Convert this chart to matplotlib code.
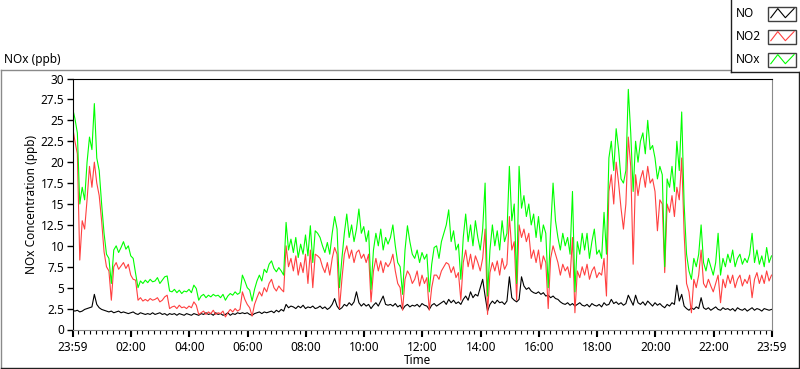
import numpy as np
import matplotlib
matplotlib.use("Agg")
import matplotlib.pyplot as plt
from matplotlib.lines import Line2D
from matplotlib.patches import Rectangle

plt.rcParams['font.family'] = ['Noto Sans', 'DejaVu Sans']

# 5 minute samples, hours since 23:59
no_ppb = [
    2.3, 2.2, 2.3, 2.1, 2.2, 2.4, 2.5, 2.6, 2.7, 4.2, 3.0,
    2.6, 2.4, 2.3, 2.2, 2.1, 2.2, 2.0, 2.1, 2.2, 2.0,
    2.1, 2.0, 1.9, 2.0, 2.1, 1.9, 1.8, 2.0, 1.9, 1.8,
    1.9, 1.8, 2.0, 1.8, 1.9, 2.0, 1.8, 1.9, 1.7, 1.9,
    1.8, 1.9, 1.7, 1.9, 1.8, 1.7, 1.9, 1.8, 1.7, 1.9,
    1.8, 1.7, 1.9, 1.8, 2.0, 1.8, 1.9, 1.7, 2.0, 1.8,
    1.9, 1.7, 1.8, 2.0, 1.7, 1.9, 1.8, 2.0, 1.9, 2.0,
    1.9, 2.0, 1.8, 1.7, 1.9, 2.0, 2.1, 1.9, 2.1, 2.0,
    2.1, 2.2, 2.0, 2.3, 2.1, 2.4, 2.2, 3.0, 2.6, 2.8,
    2.7, 2.5, 2.8, 2.6, 2.9, 2.5, 2.7, 2.6, 2.8, 2.5,
    2.6, 2.8, 2.5, 2.7, 2.4, 2.6, 3.0, 3.7, 2.8, 2.4,
    2.6, 3.0, 2.8, 3.2, 2.9, 3.3, 4.5, 3.2, 2.8, 3.1,
    2.8, 3.0, 2.5, 2.9, 3.2, 2.8, 3.4, 4.0, 3.0, 2.9,
    3.0, 2.8, 3.1, 2.7, 2.9, 2.4, 2.8, 3.0, 2.7, 2.9,
    2.8, 3.0, 2.7, 3.1, 2.9, 2.8, 2.4, 2.9, 3.1, 2.8,
    3.0, 3.2, 3.4, 3.0, 3.6, 3.2, 3.5, 3.1, 3.3, 3.0,
    3.6, 4.0, 3.5, 4.5, 3.8, 4.2, 4.0, 5.0, 6.0, 4.0,
    2.2, 3.0, 3.4, 3.1, 3.5, 3.2, 3.3, 3.0, 3.4, 6.3,
    3.8, 3.5, 3.3, 3.6, 6.3, 5.2, 4.8, 5.0, 4.6, 4.4,
    4.3, 4.5, 4.2, 4.4, 4.0, 4.1, 3.8, 4.0, 3.7, 3.6,
    3.3, 3.1, 3.0, 3.2, 2.9, 3.1, 2.8, 3.0, 3.2, 2.9,
    2.8, 3.0, 2.7, 3.1, 2.9, 2.8, 3.0, 2.7, 3.2, 2.9,
    3.0, 3.6, 3.1, 3.3, 3.0, 3.2, 2.9, 3.1, 4.1, 3.5,
    2.9, 4.1, 3.2, 3.0, 3.3, 2.9, 3.4, 3.1, 2.8, 3.2,
    2.9, 3.1, 2.8, 2.6, 3.0, 2.8, 3.2, 3.0, 5.3, 3.4,
    4.2, 2.8, 2.5, 2.3, 2.6, 2.4, 2.7, 2.5, 3.8, 2.6,
    2.4, 2.6, 2.3, 2.5, 2.7, 2.4, 2.3, 2.6, 2.4, 2.5,
    2.3, 2.5, 2.2, 2.6, 2.4, 2.3, 2.5, 2.2, 2.4, 2.6,
    2.3, 2.5, 2.4, 2.2, 2.5, 2.4, 2.3, 2.4,
]

no2_ppb = [
    24.3, 22.5, 21.0, 8.3, 13.0, 12.0, 15.5, 19.5, 17.0, 20.0, 17.5,
    16.0, 13.0, 9.3, 7.5, 7.0, 3.5, 7.5, 8.0, 7.2, 7.6,
    8.0, 7.3, 7.8, 6.5, 6.0, 5.9, 3.5, 3.8, 3.4, 3.6,
    3.4, 3.7, 3.5, 3.6, 3.8, 3.3, 3.5, 3.9, 4.1, 2.5,
    2.7, 2.8, 2.5, 2.9, 2.6, 2.7, 2.5, 2.8, 2.6, 3.3,
    2.9, 1.8, 2.0, 2.2, 1.8, 2.1, 1.9, 2.3, 1.8, 2.0,
    1.9, 2.2, 1.5, 2.0, 2.4, 2.1, 2.5, 2.2, 2.4, 4.5,
    3.6, 3.0, 2.6, 1.6, 3.0, 3.8, 4.5, 4.0, 5.0, 4.5,
    5.5, 6.0, 5.0, 4.6, 5.2, 4.8, 4.5, 10.0, 7.5, 8.5,
    7.0, 8.8, 6.5, 8.0, 6.8, 9.0, 5.5, 9.5, 5.0, 9.0,
    8.8, 8.5, 7.5, 6.8, 8.0, 6.5, 8.5, 9.8, 9.0, 2.5,
    6.0, 9.0, 10.0, 8.5, 9.5, 8.0, 9.2, 9.5, 8.5, 9.0,
    8.0, 9.0, 3.3, 7.0, 8.5, 7.0, 8.2, 6.8, 8.0, 7.5,
    8.0, 9.0, 7.0, 5.5, 5.0, 2.3, 6.0, 7.0, 6.5, 5.5,
    6.0, 7.0, 5.2, 6.5, 5.5, 6.2, 2.3, 5.0, 6.5, 6.5,
    6.0, 7.0, 7.5, 8.0, 7.8, 6.8, 7.5, 6.2, 6.8, 3.5,
    8.0, 9.5, 7.5, 9.0, 7.2, 8.8, 8.0, 7.0, 8.5, 12.0,
    1.8, 6.8, 8.0, 7.0, 8.2, 6.5, 8.5, 7.2, 7.8, 13.5,
    9.5, 10.5, 3.5, 12.5, 11.0, 12.0, 10.5, 11.5, 8.5, 9.5,
    8.0, 9.5, 7.2, 8.8, 8.0, 2.5, 8.5, 10.0, 9.0, 8.0,
    6.5, 7.8, 7.0, 7.5, 6.2, 11.0, 2.0, 7.0, 6.2, 7.5,
    6.5, 7.8, 6.0, 7.0, 7.5, 6.2, 6.8, 6.5, 8.5, 4.0,
    16.5, 18.5, 15.0, 20.0, 17.5, 14.5, 12.0, 15.0, 23.0, 19.5,
    7.8, 18.5, 16.0, 18.0, 19.0, 17.0, 19.5, 17.5, 18.0, 16.5,
    11.8, 15.5, 15.0, 6.8, 15.0, 14.0, 16.0, 13.5, 17.0, 15.5,
    20.5, 11.5, 5.5, 4.5, 2.0, 6.0, 5.0, 6.5, 9.5, 5.5,
    5.0, 6.0, 5.2, 4.5, 5.5, 6.5, 3.2, 6.0, 5.0, 6.5,
    5.5, 6.5, 5.0, 6.0, 6.5, 5.2, 6.0, 5.5, 6.5, 3.8,
    6.0, 6.8, 5.5, 6.5, 5.5, 7.0, 5.8, 6.5,
]

nox_ppb = [
    26.5, 25.2, 23.5, 15.0, 17.0, 15.5, 20.0, 23.0, 21.5, 27.0, 20.5,
    19.0, 15.0, 11.5, 9.0, 8.5, 5.5, 9.5, 10.0, 9.2, 9.8,
    10.5, 9.6, 10.0, 8.8, 8.5, 6.7, 5.0, 5.8, 5.5, 5.9,
    5.6, 6.0, 5.7, 5.8, 6.2, 5.5, 5.9, 6.3, 6.4, 4.6,
    4.5, 4.8, 4.4, 4.7, 4.3, 4.6, 4.5, 4.8, 4.4, 5.3,
    4.9, 3.5, 4.0, 4.2, 3.8, 4.1, 3.9, 4.2, 4.0, 4.1,
    3.8, 4.2, 3.5, 4.0, 4.3, 4.1, 4.5, 4.2, 4.4, 6.5,
    5.8, 5.0, 4.7, 3.4, 4.8, 5.8, 6.5, 5.8, 7.2, 6.8,
    7.8, 8.2, 7.3, 6.9, 7.4, 7.0, 6.5, 12.8, 9.5, 10.8,
    9.2, 11.0, 8.6, 10.2, 9.0, 11.3, 8.8, 12.4, 8.0, 11.8,
    11.5, 11.0, 10.0, 9.2, 10.4, 9.0, 11.5, 13.5, 12.0, 5.0,
    8.5, 11.5, 13.8, 11.0, 12.5, 10.5, 12.0, 14.4, 11.5, 12.3,
    10.5, 11.8, 4.8, 9.5, 11.5, 10.0, 12.0, 9.5, 11.0, 10.2,
    11.0, 12.5, 10.0, 8.0, 7.5, 4.2, 9.5, 12.4, 10.5, 9.0,
    8.5, 9.5, 8.0, 9.2, 8.4, 9.0, 4.5, 7.8, 9.8, 10.0,
    8.5, 10.5, 11.5, 12.5, 14.3, 10.5, 11.8, 9.5, 10.2, 6.0,
    11.0, 13.8, 10.5, 12.5, 10.0, 13.0, 11.0, 9.5, 12.0, 17.5,
    4.0, 9.5, 12.5, 10.0, 11.8, 9.5, 13.0, 10.5, 11.5, 19.5,
    13.0, 15.0, 5.5, 19.5, 14.5, 16.0, 13.5, 15.0, 12.5, 13.8,
    11.0, 13.5, 10.5, 12.5, 11.5, 5.0, 12.0, 17.5, 13.0, 11.0,
    9.5, 11.5, 10.0, 11.0, 9.0, 16.5, 4.5, 10.5, 9.0, 11.5,
    9.5, 11.5, 8.5, 10.5, 12.0, 9.0, 9.5, 8.5, 14.0, 9.0,
    20.5, 22.5, 19.0, 24.0, 21.5, 18.0, 17.5, 19.0, 28.7, 23.5,
    16.5, 22.5, 20.0, 22.5, 23.5, 21.0, 25.0, 21.5, 22.0, 20.5,
    18.0, 19.5, 18.5, 7.5, 18.0, 17.0, 19.5, 16.5, 22.5, 19.0,
    26.0, 15.0, 9.0, 7.0, 6.0, 8.5, 7.5, 9.0, 12.5, 8.0,
    7.0, 8.5, 7.5, 6.5, 8.0, 11.5, 6.5, 8.5, 7.5, 9.0,
    8.0, 9.5, 7.5, 8.5, 9.0, 7.8, 8.5, 8.0, 9.0, 11.5,
    8.0, 9.5, 7.8, 8.8, 7.5, 9.8, 8.0, 8.8,
]

t_hours = np.arange(len(nox_ppb)) / 12.0

tick_pos = [0, 2 + 1/60, 4 + 1/60, 6 + 1/60, 8 + 1/60, 10 + 1/60, 12 + 1/60,
            14 + 1/60, 16 + 1/60, 18 + 1/60, 20 + 1/60, 22 + 1/60, 24]
tick_lbl = ['23:59', '02:00', '04:00', '06:00', '08:00', '10:00', '12:00',
            '14:00', '16:00', '18:00', '20:00', '22:00', '23:59']
ytick_lbl = ['0', '2.5', '5', '7.5', '10', '12.5', '15', '17.5', '20',
             '22.5', '25', '27.5', '30']

W, H = 800, 369
fig = plt.figure(figsize=(W / 100, H / 100), dpi=100)


def fx(px):
    return px / W


def fy(py):
    return 1 - py / H


# outer frame
fig.add_artist(Line2D([fx(0.5), fx(730)], [fy(69.5), fy(69.5)], color='#8a8a8a', lw=1))
fig.add_artist(Line2D([fx(0.5), fx(0.5)], [fy(69.5), fy(367.5)], color='#8a8a8a', lw=1))
fig.add_artist(Line2D([fx(0.5), fx(798.5)], [fy(367.5), fy(367.5)], color='#202020', lw=1))
fig.add_artist(Line2D([fx(798.5), fx(798.5)], [fy(72), fy(367.5)], color='#202020', lw=1))

ax = fig.add_axes([fx(72.5), fy(329.5), (771.5 - 72.5) / W, (329.5 - 78.5) / H])
ax.plot(t_hours, no_ppb, color='black', lw=0.8)
ax.plot(t_hours, no2_ppb, color='#ff4040', lw=0.8)
ax.plot(t_hours, nox_ppb, color='#00ff00', lw=0.8)

ax.set_xlim(0, 24)
ax.set_ylim(0, 30)
ax.set_xticks(tick_pos)
ax.set_xticklabels(tick_lbl)
ax.set_xticks(np.arange(0.2, 24, 0.2), minor=True)
ax.set_yticks(np.arange(0, 30.1, 2.5))
ax.set_yticklabels(ytick_lbl)
ax.tick_params(axis='x', which='major', length=5, width=1.5, pad=3, labelsize=8.5)
ax.tick_params(axis='x', which='minor', length=3, width=0.8)
ax.tick_params(axis='y', length=4, width=1, pad=2, labelsize=8.5)
for s in ['top', 'left']:
    ax.spines[s].set_color('black')
for s in ['bottom', 'right']:
    ax.spines[s].set_color('#8a8a8a')

fig.text(fx(4), fy(59), 'NOx (ppb)', fontsize=8.5, ha='left', va='center')
fig.text(fx(32), fy(204), 'NOx Concentration (ppb)', fontsize=8.5, rotation=90,
         ha='center', va='center')
fig.text(fx(418), fy(360), 'Time', fontsize=8.5, ha='center', va='center')

# legend box
fig.add_artist(Line2D([fx(730.5), fx(730.5)], [fy(0), fy(72)], color='#202020', lw=1))
fig.add_artist(Line2D([fx(730.5), fx(800)], [fy(71.5), fy(71.5)], color='#202020', lw=1))
leg_names = ['NO', 'NO2', 'NOx']
leg_colors = ['black', '#ff4040', '#00ff00']
for k, (name, col) in enumerate(zip(leg_names, leg_colors)):
    yc = 13.5 + 23 * k
    fig.text(fx(736), fy(yc), name, fontsize=8.5, ha='left', va='center')
    x0, x1 = 768, 796
    y0, y1 = yc - 7, yc + 7
    fig.add_artist(Rectangle((fx(x0), fy(y1)), fx(x1 - x0), (y1 - y0) / H,
                             fill=False, edgecolor='#404040', lw=1))
    zx = [0.1, 0.35, 0.62, 0.93]
    zy = [0.2, 0.85, 0.2, 0.85]
    fig.add_artist(Line2D([fx(x0 + (x1 - x0) * a) for a in zx],
                          [fy(y1 - (y1 - y0) * b) for b in zy], color=col, lw=0.8))

fig.savefig('out.png', dpi=100)
